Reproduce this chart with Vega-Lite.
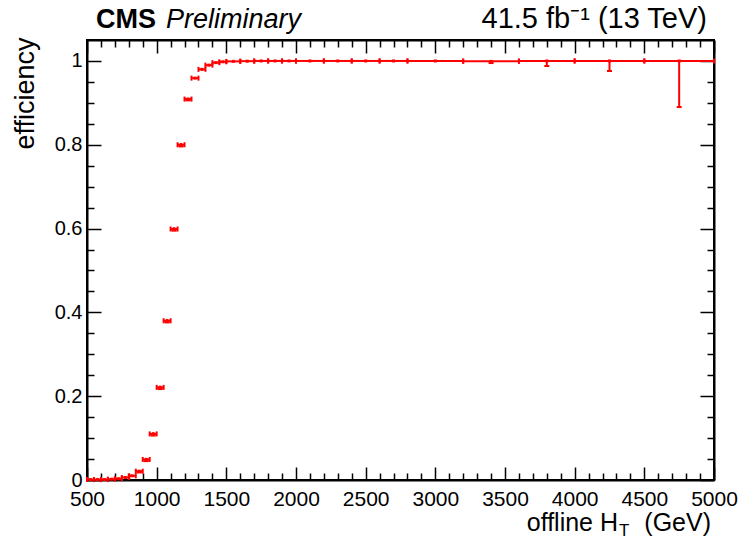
{
  "$schema": "https://vega.github.io/schema/vega-lite/v6.json",
  "width": 627,
  "height": 440,
  "autosize": {"type": "none"},
  "padding": {"left": 87, "top": 40, "right": 25, "bottom": 60},
  "background": "white",
  "config": {
    "view": {"stroke": "black", "strokeWidth": 2},
    "font": "Liberation Sans",
    "axis": {
      "grid": false,
      "domainColor": "black",
      "domainWidth": 2,
      "tickColor": "black",
      "tickWidth": 1.5,
      "labelColor": "black",
      "labelFont": "Liberation Sans",
      "labelFontSize": 21,
      "labelOverlap": false,
      "labelFlush": false,
      "labelBound": false
    }
  },
  "data": {
    "values": [
      {"lo": 500, "hi": 550, "c": 525, "eff": 0.001, "eff_lo": 0.0, "eff_hi": 0.002},
      {"lo": 550, "hi": 600, "c": 575, "eff": 0.001, "eff_lo": 0.0, "eff_hi": 0.002},
      {"lo": 600, "hi": 650, "c": 625, "eff": 0.001, "eff_lo": 0.0, "eff_hi": 0.002},
      {"lo": 650, "hi": 700, "c": 675, "eff": 0.002, "eff_lo": 0.001, "eff_hi": 0.003},
      {"lo": 700, "hi": 750, "c": 725, "eff": 0.003, "eff_lo": 0.002, "eff_hi": 0.004},
      {"lo": 750, "hi": 800, "c": 775, "eff": 0.006, "eff_lo": 0.004, "eff_hi": 0.008},
      {"lo": 800, "hi": 850, "c": 825, "eff": 0.010, "eff_lo": 0.008, "eff_hi": 0.012},
      {"lo": 850, "hi": 900, "c": 875, "eff": 0.021, "eff_lo": 0.018, "eff_hi": 0.024},
      {"lo": 900, "hi": 950, "c": 925, "eff": 0.049, "eff_lo": 0.045, "eff_hi": 0.053},
      {"lo": 950, "hi": 1000, "c": 975, "eff": 0.110, "eff_lo": 0.106, "eff_hi": 0.114},
      {"lo": 1000, "hi": 1050, "c": 1025, "eff": 0.221, "eff_lo": 0.217, "eff_hi": 0.225},
      {"lo": 1050, "hi": 1100, "c": 1075, "eff": 0.380, "eff_lo": 0.376, "eff_hi": 0.384},
      {"lo": 1100, "hi": 1150, "c": 1125, "eff": 0.599, "eff_lo": 0.595, "eff_hi": 0.603},
      {"lo": 1150, "hi": 1200, "c": 1175, "eff": 0.800, "eff_lo": 0.796, "eff_hi": 0.804},
      {"lo": 1200, "hi": 1250, "c": 1225, "eff": 0.909, "eff_lo": 0.906, "eff_hi": 0.912},
      {"lo": 1250, "hi": 1300, "c": 1275, "eff": 0.959, "eff_lo": 0.957, "eff_hi": 0.961},
      {"lo": 1300, "hi": 1350, "c": 1325, "eff": 0.980, "eff_lo": 0.978, "eff_hi": 0.982},
      {"lo": 1350, "hi": 1400, "c": 1375, "eff": 0.990, "eff_lo": 0.988, "eff_hi": 0.992},
      {"lo": 1400, "hi": 1450, "c": 1425, "eff": 0.996, "eff_lo": 0.995, "eff_hi": 0.997},
      {"lo": 1450, "hi": 1500, "c": 1475, "eff": 0.998, "eff_lo": 0.997, "eff_hi": 0.999},
      {"lo": 1500, "hi": 1600, "c": 1550, "eff": 0.999, "eff_lo": 0.998, "eff_hi": 1.0},
      {"lo": 1600, "hi": 1700, "c": 1650, "eff": 0.9995, "eff_lo": 0.999, "eff_hi": 1.0},
      {"lo": 1700, "hi": 1800, "c": 1750, "eff": 1.0, "eff_lo": 0.999, "eff_hi": 1.0},
      {"lo": 1800, "hi": 1900, "c": 1850, "eff": 1.0, "eff_lo": 0.999, "eff_hi": 1.0},
      {"lo": 1900, "hi": 2000, "c": 1950, "eff": 1.0, "eff_lo": 0.999, "eff_hi": 1.0},
      {"lo": 2000, "hi": 2200, "c": 2100, "eff": 1.0, "eff_lo": 0.999, "eff_hi": 1.0},
      {"lo": 2200, "hi": 2400, "c": 2300, "eff": 1.0, "eff_lo": 0.999, "eff_hi": 1.0},
      {"lo": 2400, "hi": 2600, "c": 2500, "eff": 1.0, "eff_lo": 0.999, "eff_hi": 1.0},
      {"lo": 2600, "hi": 2800, "c": 2700, "eff": 1.0, "eff_lo": 0.998, "eff_hi": 1.0},
      {"lo": 2800, "hi": 3200, "c": 3000, "eff": 1.0, "eff_lo": 0.998, "eff_hi": 1.0},
      {"lo": 3200, "hi": 3600, "c": 3400, "eff": 0.999, "eff_lo": 0.995, "eff_hi": 1.0},
      {"lo": 3600, "hi": 4000, "c": 3800, "eff": 1.0, "eff_lo": 0.988, "eff_hi": 1.0},
      {"lo": 4000, "hi": 4500, "c": 4250, "eff": 1.0, "eff_lo": 0.976, "eff_hi": 1.0},
      {"lo": 4500, "hi": 5000, "c": 4750, "eff": 1.0, "eff_lo": 0.89, "eff_hi": 1.0}
    ]
  },
  "layer": [
    {
      "mark": {"type": "rule", "color": "#ff0000", "strokeWidth": 2},
      "encoding": {
        "x": {
          "field": "lo", "type": "quantitative",
          "scale": {"domain": [500, 5000], "nice": false, "zero": false},
          "axis": {
            "orient": "bottom",
            "values": [500,600,700,800,900,1000,1100,1200,1300,1400,1500,1600,1700,1800,1900,2000,2100,2200,2300,2400,2500,2600,2700,2800,2900,3000,3100,3200,3300,3400,3500,3600,3700,3800,3900,4000,4100,4200,4300,4400,4500,4600,4700,4800,4900,5000],
            "labelExpr": "datum.value % 500 === 0 ? format(datum.value, 'd') : ''",
            "tickSize": {"condition": {"test": "datum.value % 500 === 0", "value": -13}, "value": -7},
            "labelPadding": 21,
            "title": null
          }
        },
        "x2": {"field": "hi"},
        "y": {
          "field": "eff", "type": "quantitative",
          "scale": {"domain": [0, 1.05], "nice": false, "zero": false},
          "axis": {
            "orient": "left",
            "values": [0,0.05,0.1,0.15,0.2,0.25,0.3,0.35,0.4,0.45,0.5,0.55,0.6,0.65,0.7,0.75,0.8,0.85,0.9,0.95,1.0],
            "labelExpr": "round(datum.value * 100) % 20 === 0 ? format(datum.value, '~g') : ''",
            "tickSize": {"condition": {"test": "round(datum.value * 100) % 20 === 0", "value": -14}, "value": -7},
            "labelPadding": 19,
            "labelFontSize": 20,
            "title": "efficiency",
            "titleFont": "Liberation Sans",
            "titleFontSize": 27,
            "titleFontWeight": "normal",
            "titleColor": "black",
            "titleAnchor": "end",
            "titleAngle": -90,
            "titleAlign": "right",
            "titleBaseline": "middle",
            "titleX": -62,
            "titleY": -3
          }
        }
      }
    },
    {
      "mark": {"type": "rule", "color": "#ff0000", "strokeWidth": 2},
      "encoding": {
        "x": {"field": "c", "type": "quantitative", "axis": null},
        "y": {"field": "eff_lo", "type": "quantitative", "axis": null},
        "y2": {"field": "eff_hi"}
      }
    },
    {
      "mark": {"type": "point", "shape": "M0,-1L0,1", "size": 25, "filled": false, "color": "#ff0000", "strokeWidth": 2, "opacity": 1},
      "encoding": {
        "x": {"field": "lo", "type": "quantitative", "axis": null},
        "y": {"field": "eff", "type": "quantitative", "axis": null}
      }
    },
    {
      "mark": {"type": "point", "shape": "M0,-1L0,1", "size": 25, "filled": false, "color": "#ff0000", "strokeWidth": 2, "opacity": 1},
      "encoding": {
        "x": {"field": "hi", "type": "quantitative", "axis": null},
        "y": {"field": "eff", "type": "quantitative", "axis": null}
      }
    },
    {
      "transform": [{"filter": "datum.eff - datum.eff_lo > 0.003"}],
      "mark": {"type": "point", "shape": "M-1,0L1,0", "size": 25, "filled": false, "color": "#ff0000", "strokeWidth": 2, "opacity": 1},
      "encoding": {
        "x": {"field": "c", "type": "quantitative", "axis": null},
        "y": {"field": "eff_lo", "type": "quantitative", "axis": null}
      }
    },
    {
      "mark": {"type": "square", "size": 9, "color": "#ff0000", "opacity": 1},
      "encoding": {
        "x": {"field": "c", "type": "quantitative", "axis": null},
        "y": {"field": "eff", "type": "quantitative", "axis": null}
      }
    },
    {
      "mark": {"type": "point", "opacity": 0},
      "encoding": {
        "x": {
          "field": "c", "type": "quantitative",
          "axis": {
            "orient": "top",
            "values": [500,600,700,800,900,1000,1100,1200,1300,1400,1500,1600,1700,1800,1900,2000,2100,2200,2300,2400,2500,2600,2700,2800,2900,3000,3100,3200,3300,3400,3500,3600,3700,3800,3900,4000,4100,4200,4300,4400,4500,4600,4700,4800,4900,5000],
            "labels": false,
            "tickSize": {"condition": {"test": "datum.value % 500 === 0", "value": -13}, "value": -7},
            "title": null
          }
        },
        "y": {
          "field": "eff", "type": "quantitative",
          "axis": {
            "orient": "right",
            "values": [0,0.05,0.1,0.15,0.2,0.25,0.3,0.35,0.4,0.45,0.5,0.55,0.6,0.65,0.7,0.75,0.8,0.85,0.9,0.95,1.0],
            "labels": false,
            "tickSize": {"condition": {"test": "round(datum.value * 100) % 20 === 0", "value": -14}, "value": -7},
            "title": null
          }
        }
      }
    },
    {
      "data": {"values": [{}]},
      "mark": {"type": "text", "text": "CMS", "font": "Liberation Sans", "fontWeight": "bold", "fontSize": 27, "align": "left", "baseline": "alphabetic", "dx": 9, "dy": -12, "color": "black"},
      "encoding": {
        "x": {"datum": 500, "type": "quantitative", "axis": null},
        "y": {"datum": 1.05, "type": "quantitative", "axis": null}
      }
    },
    {
      "data": {"values": [{}]},
      "mark": {"type": "text", "text": "Preliminary", "font": "Liberation Sans", "fontStyle": "italic", "fontSize": 27, "align": "left", "baseline": "alphabetic", "dx": 79, "dy": -12, "color": "black"},
      "encoding": {
        "x": {"datum": 500, "type": "quantitative", "axis": null},
        "y": {"datum": 1.05, "type": "quantitative", "axis": null}
      }
    },
    {
      "data": {"values": [{}]},
      "mark": {"type": "text", "text": "41.5 fb⁻¹ (13 TeV)", "font": "Liberation Sans", "fontSize": 29, "align": "right", "baseline": "alphabetic", "dx": -7, "dy": -12, "color": "black"},
      "encoding": {
        "x": {"datum": 5000, "type": "quantitative", "axis": null},
        "y": {"datum": 1.05, "type": "quantitative", "axis": null}
      }
    },
    {
      "data": {"values": [{}]},
      "mark": {"type": "text", "text": "offline H", "font": "Liberation Sans", "fontSize": 25, "align": "right", "baseline": "alphabetic", "dx": -96, "dy": 51, "color": "black"},
      "encoding": {
        "x": {"datum": 5000, "type": "quantitative", "axis": null},
        "y": {"datum": 0, "type": "quantitative", "axis": null}
      }
    },
    {
      "data": {"values": [{}]},
      "mark": {"type": "text", "text": "T", "font": "Liberation Sans", "fontSize": 17, "align": "left", "baseline": "alphabetic", "dx": -95, "dy": 56, "color": "black"},
      "encoding": {
        "x": {"datum": 5000, "type": "quantitative", "axis": null},
        "y": {"datum": 0, "type": "quantitative", "axis": null}
      }
    },
    {
      "data": {"values": [{}]},
      "mark": {"type": "text", "text": "(GeV)", "font": "Liberation Sans", "fontSize": 25, "align": "right", "baseline": "alphabetic", "dx": -3, "dy": 51, "color": "black"},
      "encoding": {
        "x": {"datum": 5000, "type": "quantitative", "axis": null},
        "y": {"datum": 0, "type": "quantitative", "axis": null}
      }
    }
  ],
  "resolve": {"axis": {"x": "independent", "y": "independent"}}
}
